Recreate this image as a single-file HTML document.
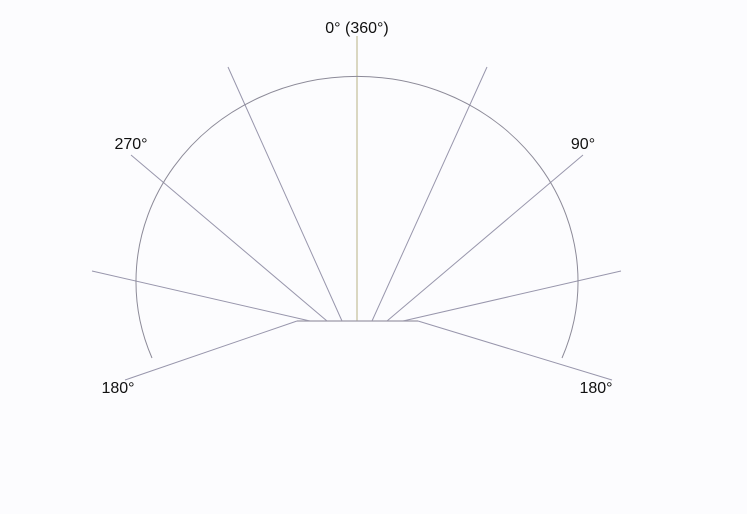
<!DOCTYPE html>
<html><head><meta charset="utf-8"><style>
html,body{margin:0;padding:0;background:#fcfcfe;}
svg{display:block;}
text{font-family:"Liberation Sans",sans-serif;font-size:16px;fill:#111;}
</style></head><body>
<svg width="747" height="514">
<g id="spokes"></g>
<path d="M152,358 A221,205 0 1,1 562,358" fill="none" stroke="#8c8a98" stroke-width="1"/>
<line x1="297" y1="321" x2="418" y2="321" stroke="#9c98a8" stroke-width="1.3"/>
<text x="357" y="33" text-anchor="middle">0° (360°)</text>
<text x="131" y="149" text-anchor="middle">270°</text>
<text x="583" y="149" text-anchor="middle">90°</text>
<text x="118" y="393" text-anchor="middle">180°</text>
<text x="596" y="393" text-anchor="middle">180°</text>
</svg>
<script>
const startX=[297,310,327,342,357,372,387,403,418];
const startY=[321,321,321,321,321,321,321,321,321];
const endX=[125,92,131,228,357,487,583,621,612];
const endY=[380,271,155,67,36,67,155,271,380];
const g=document.getElementById('spokes');
for(let i=0;i<startX.length;i++){
  const l=document.createElementNS('http://www.w3.org/2000/svg','line');
  
  
  l.setAttribute('x1',startX[i]);l.setAttribute('y1',startY[i]);
  l.setAttribute('x2',endX[i]);l.setAttribute('y2',endY[i]);
  l.setAttribute('stroke',i===4?'#b8b284':'#9896ac');
  l.setAttribute('stroke-width','1');
  g.appendChild(l);
}
</script>
</body></html>
